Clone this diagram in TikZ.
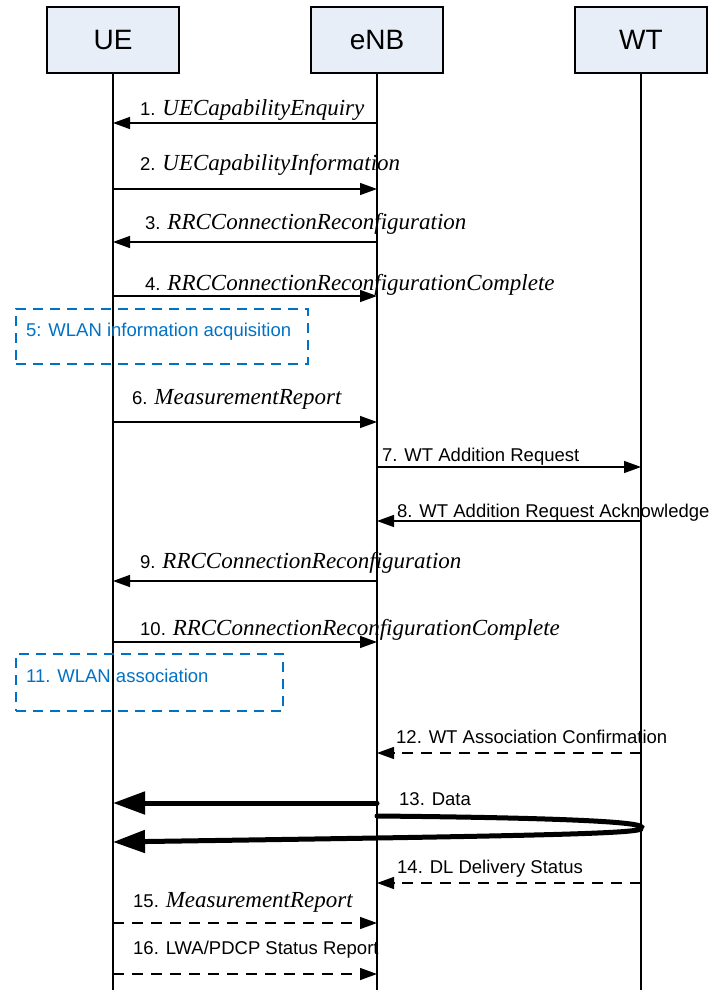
\documentclass[tikz,border=0pt]{standalone}
\usepackage{fontspec}
\setmainfont{Liberation Sans}
\newfontfamily\serifmsg{Liberation Serif}
\usetikzlibrary{arrows.meta}
\definecolor{boxfill}{RGB}{232,238,248}
\definecolor{infoblue}{RGB}{0,114,198}
\tikzset{
    entity/.style={draw=black, line width=1.2pt, fill=boxfill, minimum width=132pt, minimum height=66pt, font=\fontsize{28pt}{30pt}\selectfont},
    lifeline/.style={line width=1.2pt},
    msg/.style={line width=1.4pt, -{Triangle[length=17pt,width=12pt]}},
    msgdash/.style={msg, dash pattern=on 11pt off 8pt},
    datamsg/.style={line width=5pt, line cap=round, -{Triangle[length=32pt,width=22pt]}},
    lbl/.style={anchor=base west, inner sep=0pt, font=\fontsize{18.5pt}{22pt}\selectfont},
    procbox/.style={draw=infoblue, line width=1.4pt, dash pattern=on 10pt off 7pt, inner sep=0pt},
}
\newcommand\msgname[1]{{\fontsize{23pt}{26pt}\serifmsg\itshape #1}}

\begin{document}
\begin{tikzpicture}[x=1pt, y=-1pt]
    \newcommand\posUE{113}
    \newcommand\posENB{377}
    \newcommand\posWT{641}
    \useasboundingbox[fill=white] (0,0) rectangle (714,990);

    % entities and lifelines
    \node[entity] (ue) at (\posUE, 40){UE};
    \node[entity] (enb) at (\posENB, 40){eNB};
    \node[entity] (wt) at (\posWT, 40){WT};
    \coordinate (ueEnd) at (\posUE, 990);
    \coordinate (enbEnd) at (\posENB, 990);
    \coordinate (wtEnd) at (\posWT, 990);
    \draw[lifeline] (ue) -- (ueEnd);
    \draw[lifeline] (enb) -- (enbEnd);
    \draw[lifeline] (wt) -- (wtEnd);

    % 1-4
    \coordinate (ue1) at (\posUE, 123);   \coordinate (enb1) at (\posENB, 123);
    \coordinate (ue2) at (\posUE, 189);   \coordinate (enb2) at (\posENB, 189);
    \coordinate (ue3) at (\posUE, 242);   \coordinate (enb3) at (\posENB, 242);
    \coordinate (ue4) at (\posUE, 296);   \coordinate (enb4) at (\posENB, 296);
    \draw[msg] (enb1) -- (ue1);
    \draw[msg] (ue2) -- (enb2);
    \draw[msg] (enb3) -- (ue3);
    \draw[msg] (ue4) -- (enb4);
    \node[lbl] (lab1) at (140, 115){1. \msgname{UECapabilityEnquiry}};
    \node[lbl] (lab2) at (140, 170){2. \msgname{UECapabilityInformation}};
    \node[lbl] (lab3) at (145, 229){3. \msgname{RRCConnectionReconfiguration}};
    \node[lbl] (lab4) at (145, 290){4. \msgname{RRCConnectionReconfigurationComplete}};

    % 5
    \node[procbox, minimum width=292pt, minimum height=55pt] (wlan5) at (162, 336.5){};
    \node[lbl, text=infoblue] (lab5) at (26, 336){5: WLAN information acquisition};

    % 6-10
    \coordinate (ue6) at (\posUE, 422);   \coordinate (enb6) at (\posENB, 422);
    \coordinate (enb7) at (\posENB, 467); \coordinate (wt7) at (\posWT, 467);
    \coordinate (enb8) at (\posENB, 521); \coordinate (wt8) at (\posWT, 521);
    \coordinate (ue9) at (\posUE, 581);   \coordinate (enb9) at (\posENB, 581);
    \coordinate (ue10) at (\posUE, 642);  \coordinate (enb10) at (\posENB, 642);
    \draw[msg] (ue6) -- (enb6);
    \draw[msg] (enb7) -- (wt7);
    \draw[msg] (wt8) -- (enb8);
    \draw[msg] (enb9) -- (ue9);
    \draw[msg] (ue10) -- (enb10);
    \node[lbl] (lab6) at (132, 404){6. \msgname{MeasurementReport}};
    \node[lbl] (lab7) at (382, 461){7. WT Addition Request};
    \node[lbl] (lab8) at (397, 517){8. WT Addition Request Acknowledge};
    \node[lbl] (lab9) at (140, 568){9. \msgname{RRCConnectionReconfiguration}};
    \node[lbl] (lab10) at (140, 635){10. \msgname{RRCConnectionReconfigurationComplete}};

    % 11
    \node[procbox, minimum width=267pt, minimum height=57pt] (wlan11) at (149.5, 682.5){};
    \node[lbl, text=infoblue] (lab11) at (26, 682){11. WLAN association};

    % 12-16
    \coordinate (enb12) at (\posENB, 753); \coordinate (wt12) at (\posWT, 753);
    \coordinate (ue13) at (\posUE, 803);   \coordinate (enb13) at (\posENB, 803);
    \coordinate (enb13b) at (\posENB, 816); \coordinate (wt13) at (\posWT, 828);
    \coordinate (ue13b) at (\posUE, 842);
    \coordinate (enb14) at (\posENB, 883); \coordinate (wt14) at (\posWT, 883);
    \coordinate (ue15) at (\posUE, 923);   \coordinate (enb15) at (\posENB, 923);
    \coordinate (ue16) at (\posUE, 974);   \coordinate (enb16) at (\posENB, 974);
    \draw[msgdash] (wt12) -- (enb12);
    \draw[datamsg] (enb13) -- (ue13);
    \draw[datamsg] (enb13b) .. controls (590, 818) and (648, 823) .. (wt13)
        .. controls (648, 834) and (520, 836) .. (ue13b);
    \draw[msgdash] (wt14) -- (enb14);
    \draw[msgdash] (ue15) -- (enb15);
    \draw[msgdash] (ue16) -- (enb16);
    \node[lbl] (lab12) at (396, 743){12. WT Association Confirmation};
    \node[lbl] (lab13) at (399, 805){13. Data};
    \node[lbl] (lab14) at (397, 873){14. DL Delivery Status};
    \node[lbl] (lab15) at (133, 907){15. \msgname{MeasurementReport}};
    \node[lbl] (lab16) at (133, 954){16. LWA/PDCP Status Report};
\end{tikzpicture}
\end{document}
